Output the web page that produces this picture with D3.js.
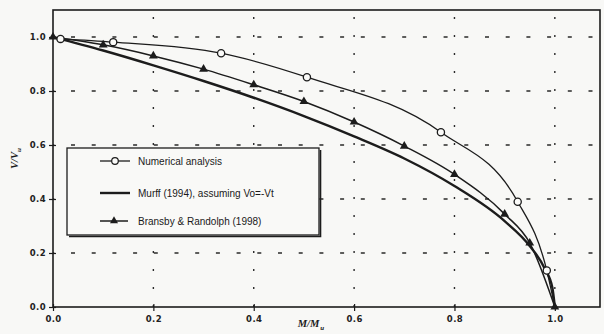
<!DOCTYPE html>
<html>
<head>
<meta charset="utf-8">
<script src="https://cdn.jsdelivr.net/npm/d3@7"></script>
<style>
  html, body { margin: 0; padding: 0; background: #f8f8f6; }
  svg { display: block; }
  .tick-label { font-family: "DejaVu Sans", sans-serif; font-weight: bold; font-size: 8.5px; letter-spacing: 0.4px; fill: #222; }
  .legend-text { font-family: "Liberation Sans", Arial, sans-serif; font-size: 10px; fill: #1a1a1a; }
</style>
</head>
<body>
<svg id="chart" width="604" height="334"></svg>
<script>
// Interaction diagram: normalised shear V/Vu against normalised moment M/Mu
const xTicks = [0.0, 0.2, 0.4, 0.6, 0.8, 1.0];
const yTicks = [0.0, 0.2, 0.4, 0.6, 0.8, 1.0];
const xTickLabels = ["0.0", "0.2", "0.4", "0.6", "0.8", "1.0"];
const yTickLabels = ["0.0", "0.2", "0.4", "0.6", "0.8", "1.0"];

const seriesNames = ["Numerical analysis", "Murff (1994), assuming Vo=-Vt", "Bransby & Randolph (1998)"];

// Numerical analysis (open circles)
const numericalM = [0.015, 0.12, 0.335, 0.506, 0.773, 0.926, 0.984, 1.0];
const numericalV = [0.993, 0.981, 0.940, 0.851, 0.647, 0.390, 0.135, 0.0];

// Murff (1994) closed-form curve (thick line, no markers)
const murffM = [0.0, 0.1, 0.2, 0.3, 0.4, 0.5, 0.6, 0.7, 0.8, 0.9, 0.95, 0.98, 0.995, 1.0];
const murffV = [1.0, 0.950, 0.895, 0.837, 0.775, 0.707, 0.632, 0.550, 0.448, 0.318, 0.226, 0.142, 0.072, 0.0];

// Bransby & Randolph (1998) (filled triangles)
const bransbyM = [0.0, 0.1, 0.2, 0.3, 0.4, 0.5, 0.6, 0.7, 0.8, 0.9, 0.95, 1.0];
const bransbyV = [1.0, 0.971, 0.930, 0.881, 0.823, 0.761, 0.685, 0.596, 0.491, 0.344, 0.237, 0.0];

const ink = "#1c1c1c";
const svg = d3.select("#chart");

const plotL = 53, plotR = 600, plotT = 10, plotB = 307;
const x = d3.scaleLinear().domain([0, 1.09]).range([plotL, plotR]);
const y = d3.scaleLinear().domain([0, 1.1]).range([plotB, plotT]);

// Grid: dashed horizontal, dotted vertical
const grid = svg.append("g");
grid.selectAll("line.h").data(yTicks.filter(d => d > 0)).join("line")
  .attr("x1", plotL).attr("x2", plotR)
  .attr("y1", d => y(d)).attr("y2", d => y(d))
  .attr("stroke", "#2a2a2a").attr("stroke-width", 1.5)
  .attr("stroke-dasharray", "4 16.7").attr("stroke-dashoffset", -18);
grid.selectAll("line.v").data(xTicks.filter(d => d > 0)).join("line")
  .attr("y1", plotB).attr("y2", plotT)
  .attr("x1", d => x(d)).attr("x2", d => x(d))
  .attr("stroke", "#2a2a2a").attr("stroke-width", 1.4)
  .attr("stroke-dasharray", "2 16");

// Frame
svg.append("rect")
  .attr("x", plotL).attr("y", plotT)
  .attr("width", plotR - plotL).attr("height", plotB - plotT)
  .attr("fill", "none").attr("stroke", ink).attr("stroke-width", 1.6);

// Axes with ticks crossing the frame
const xAxis = d3.axisBottom(x).tickValues(xTicks).tickSize(4).tickFormat((d, i) => xTickLabels[i]);
const gx = svg.append("g").attr("transform", `translate(0,${plotB})`).call(xAxis);
gx.select(".domain").remove();
gx.selectAll(".tick line").attr("stroke", ink).attr("stroke-width", 1.2).attr("y1", -3);
gx.selectAll(".tick text").attr("class", "tick-label").attr("dy", "1.05em").attr("y", 6);

const yAxis = d3.axisLeft(y).tickValues(yTicks).tickSize(4).tickFormat((d, i) => yTickLabels[i]);
const gy = svg.append("g").attr("transform", `translate(${plotL},0)`).call(yAxis);
gy.select(".domain").remove();
gy.selectAll(".tick line").attr("stroke", ink).attr("stroke-width", 1.2).attr("x1", 3);
gy.selectAll(".tick text").attr("class", "tick-label").attr("x", -7);

// Axis titles
const yt = svg.append("text")
  .attr("transform", `translate(18,${(y(0.55))}) rotate(-90)`)
  .attr("text-anchor", "middle")
  .attr("font-family", "Liberation Serif, serif").attr("font-style", "italic").attr("font-weight", "bold")
  .attr("font-size", 10.5).attr("fill", ink);
yt.append("tspan").text("V/V");
yt.append("tspan").attr("font-size", 7).attr("dy", 3).text("u");

const xt = svg.append("text")
  .attr("x", 311).attr("y", 327)
  .attr("text-anchor", "middle")
  .attr("font-family", "Liberation Serif, serif").attr("font-style", "italic").attr("font-weight", "bold")
  .attr("font-size", 10.5).attr("fill", ink);
xt.append("tspan").text("M/M");
xt.append("tspan").attr("font-size", 7).attr("dy", 3).attr("dx", 1).text("u");

// Curves
const line = d3.line().x(d => x(d[0])).y(d => y(d[1])).curve(d3.curveMonotoneX);
const zip = (a, b) => a.map((v, i) => [v, b[i]]);
const murff = zip(murffM, murffV);
const numerical = zip(numericalM, numericalV);
const bransby = zip(bransbyM, bransbyV);

const plot = svg.append("g");
plot.append("path").datum(murff).attr("d", line)
  .attr("fill", "none").attr("stroke", ink).attr("stroke-width", 2.4);
plot.append("path").datum(bransby).attr("d", line)
  .attr("fill", "none").attr("stroke", ink).attr("stroke-width", 1.5);
plot.append("path").datum(numerical).attr("d", line)
  .attr("fill", "none").attr("stroke", ink).attr("stroke-width", 1.3);

const tri = d3.symbol().type(d3.symbolTriangle).size(34);
plot.selectAll("path.tri").data(bransby).join("path")
  .attr("transform", d => `translate(${x(d[0])},${y(d[1])})`)
  .attr("d", tri).attr("fill", ink);
plot.selectAll("circle.num").data(numerical.slice(0, -1)).join("circle")
  .attr("cx", d => x(d[0])).attr("cy", d => y(d[1])).attr("r", 3.6)
  .attr("fill", "#fbfbf9").attr("stroke", ink).attr("stroke-width", 1.3);

// Legend box with drop shadow
const lg = svg.append("g");
const lx = 67, ly = 148, lw = 252, lh = 87;
lg.append("path")
  .attr("d", `M${lx + 2},${ly + lh + 1.5} H${lx + lw + 1.5} V${ly + 2}`)
  .attr("fill", "none").attr("stroke", ink).attr("stroke-width", 1.6);
lg.append("rect").attr("x", lx).attr("y", ly).attr("width", lw).attr("height", lh)
  .attr("fill", "#f9f9f7").attr("stroke", ink).attr("stroke-width", 1.3);

const rows = [161, 193, 221];
// Numerical analysis sample
lg.append("line").attr("x1", 100).attr("x2", 130).attr("y1", rows[0]).attr("y2", rows[0])
  .attr("stroke", ink).attr("stroke-width", 1.3);
lg.append("circle").attr("cx", 115).attr("cy", rows[0]).attr("r", 3.3)
  .attr("fill", "#fbfbf9").attr("stroke", ink).attr("stroke-width", 1.2);
// Murff sample
lg.append("line").attr("x1", 100).attr("x2", 130).attr("y1", rows[1]).attr("y2", rows[1])
  .attr("stroke", ink).attr("stroke-width", 2.4);
// Bransby sample
lg.append("line").attr("x1", 100).attr("x2", 128).attr("y1", rows[2]).attr("y2", rows[2])
  .attr("stroke", ink).attr("stroke-width", 1.5);
lg.append("path").attr("transform", `translate(114,${rows[2]})`)
  .attr("d", d3.symbol().type(d3.symbolTriangle).size(28)).attr("fill", ink);

lg.selectAll("text").data(seriesNames).join("text")
  .attr("class", "legend-text")
  .attr("x", 138).attr("y", (d, i) => rows[i]).attr("dy", "0.35em")
  .text(d => d);
</script>
</body>
</html>
